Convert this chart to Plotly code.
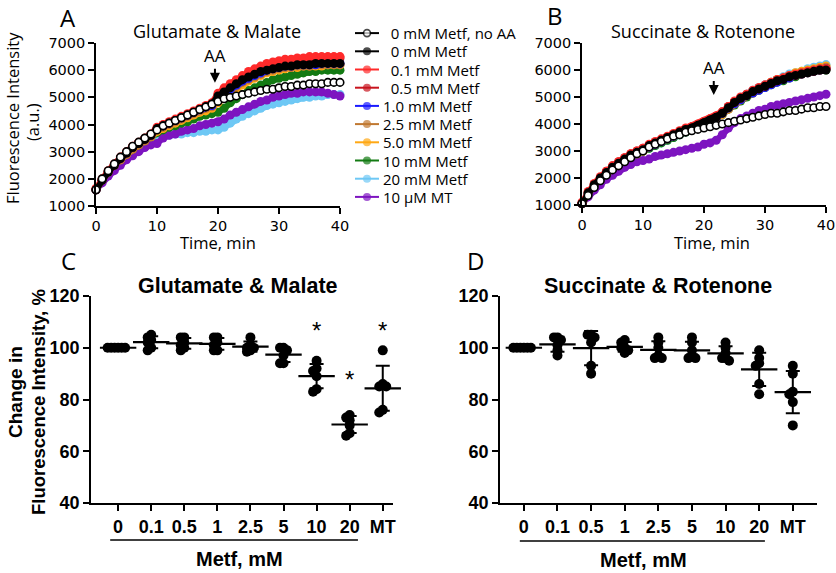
import plotly.graph_objects as go

W, H = 836, 573
def fx(px): return px / W
def fy(py): return 1 - py / H

# ---------------- DATA ----------------
time_min = list(range(0, 41))

series_names = ["0 mM Metf, no AA", "0 mM Metf", "0.1 mM Metf", "0.5 mM Metf", "1.0 mM Metf",
                "2.5 mM Metf", "5.0 mM Metf", "10 mM Metf", "20 mM Metf", "10 \u00b5M MT"]

# Panel A: Glutamate & Malate
A_noAA = [1600,2000,2300,2550,2800,3000,3200,3350,3500,3650,
          3800,3950,4050,4150,4250,4350,4450,4550,4650,4750,
          4850,4950,5000,5050,5100,5150,5200,5250,5300,5300,
          5350,5400,5400,5450,5450,5500,5500,5500,5550,5550,
          5550]
A_0 = [1600,1950,2250,2500,2750,2950,3150,3300,3450,3600,
       3850,3950,4050,4150,4250,4350,4450,4550,4650,4750,
       5050,5200,5350,5500,5650,5750,5850,5950,6000,6050,
       6100,6150,6150,6200,6200,6200,6250,6250,6250,6250,
       6250]
A_01 = [1650,2000,2300,2550,2800,3000,3200,3350,3500,3650,
        3900,4000,4100,4200,4300,4400,4500,4600,4700,4800,
        5150,5350,5500,5650,5800,5950,6050,6150,6250,6300,
        6350,6400,6400,6450,6450,6500,6500,6500,6500,6500,
        6500]
A_05 = [1600,1950,2250,2500,2750,2950,3150,3300,3450,3600,
        3850,3950,4050,4150,4250,4350,4450,4550,4650,4750,
        5100,5300,5450,5600,5750,5900,6000,6100,6200,6250,
        6300,6350,6350,6400,6400,6400,6450,6450,6450,6450,
        6450]
A_1 = [1600,1950,2250,2500,2750,2950,3150,3300,3450,3600,
       3850,3950,4050,4150,4250,4350,4450,4550,4650,4700,
       5000,5150,5300,5450,5600,5700,5800,5900,6000,6050,
       6100,6150,6150,6200,6200,6200,6200,6250,6250,6250,
       6250]
A_25 = [1600,1950,2250,2500,2700,2900,3100,3250,3400,3550,
        3800,3900,4000,4100,4200,4300,4400,4500,4600,4650,
        4950,5100,5250,5400,5550,5650,5750,5850,5950,6000,
        6050,6100,6100,6150,6150,6150,6200,6200,6200,6200,
        6200]
A_5 = [1600,1950,2250,2500,2700,2900,3100,3250,3400,3550,
       3750,3850,3950,4050,4150,4250,4350,4450,4500,4600,
       4800,5000,5150,5300,5450,5600,5700,5800,5900,5950,
       6000,6050,6100,6100,6150,6150,6150,6150,6200,6200,
       6200]
A_10 = [1600,1950,2250,2500,2700,2900,3100,3250,3400,3550,
        3700,3800,3900,3950,4050,4100,4200,4300,4350,4400,
        4450,4600,4800,4950,5100,5250,5350,5450,5550,5650,
        5700,5750,5800,5850,5900,5950,5950,6000,6000,6000,
        6000]
A_20 = [1600,1900,2150,2400,2600,2800,2950,3100,3250,3350,
        3450,3550,3600,3650,3650,3700,3700,3750,3750,3800,
        3800,3900,4050,4200,4300,4400,4500,4600,4700,4750,
        4800,4850,4900,4950,5000,5000,5050,5050,5100,5100,
        5100]
A_MT = [1600,1850,2100,2300,2500,2700,2850,3000,3150,3250,
        3300,3500,3600,3650,3750,3800,3850,3950,4000,4050,
        4100,4200,4350,4450,4550,4650,4750,4850,4900,5000,
        5050,5100,5150,5150,5200,5200,5200,5200,5150,5100,
        5050]

# Panel B: Succinate & Rotenone
B_noAA = [1050,1350,1650,1900,2100,2300,2450,2600,2750,2900,
          3000,3150,3250,3350,3450,3550,3600,3700,3750,3800,
          3850,3900,3950,4000,4050,4100,4150,4200,4250,4300,
          4350,4400,4400,4450,4500,4500,4550,4600,4600,4650,
          4650]
B_0 = [1050,1450,1750,2000,2200,2400,2550,2700,2850,2950,
       3050,3200,3300,3400,3500,3600,3700,3800,3850,3950,
       4050,4150,4250,4400,4600,4800,4950,5050,5200,5300,
       5400,5500,5600,5650,5750,5800,5850,5900,5950,6000,
       6000]
B_01 = [1100,1500,1800,2050,2250,2450,2600,2750,2900,3000,
        3100,3250,3350,3450,3550,3650,3750,3850,3900,4000,
        4100,4200,4300,4450,4650,4850,5000,5100,5250,5350,
        5450,5550,5650,5700,5800,5850,5900,5950,6000,6050,
        6050]
B_05 = [1050,1450,1750,2000,2250,2450,2600,2750,2900,3000,
        3100,3200,3300,3400,3500,3600,3700,3800,3900,3950,
        4050,4150,4300,4450,4650,4800,4950,5100,5200,5300,
        5400,5500,5600,5700,5750,5800,5850,5900,5950,6000,
        6050]
B_1 = [1050,1400,1700,1950,2200,2400,2550,2700,2800,2950,
       3050,3150,3250,3350,3450,3550,3650,3750,3850,3900,
       4000,4100,4250,4400,4600,4750,4900,5050,5150,5250,
       5350,5450,5550,5650,5700,5800,5850,5900,5950,6000,
       6050]
B_25 = [1050,1400,1700,1950,2150,2350,2500,2650,2800,2900,
        3000,3150,3250,3350,3450,3550,3650,3750,3800,3900,
        4000,4100,4200,4400,4550,4750,4900,5050,5150,5300,
        5400,5500,5600,5650,5750,5800,5900,5950,6000,6050,
        6100]
B_5 = [1050,1400,1700,1950,2150,2350,2500,2650,2800,2900,
       3000,3150,3250,3350,3450,3550,3650,3750,3800,3900,
       4000,4100,4200,4350,4550,4750,4900,5050,5200,5300,
       5400,5550,5650,5700,5800,5900,5950,6000,6050,6100,
       6150]
B_10 = [1050,1400,1700,1950,2150,2350,2500,2650,2800,2900,
        3000,3100,3200,3300,3400,3500,3600,3700,3800,3850,
        3950,4050,4200,4350,4550,4700,4850,5000,5150,5250,
        5350,5450,5550,5600,5700,5750,5850,5900,5950,6000,
        6000]
B_20 = [1050,1400,1700,1950,2150,2350,2500,2650,2800,2900,
        3000,3100,3200,3300,3400,3500,3600,3700,3800,3900,
        4000,4100,4250,4400,4600,4800,4950,5100,5250,5350,
        5450,5550,5650,5750,5850,5900,5950,6050,6100,6150,
        6200]
B_MT = [1050,1300,1550,1750,1950,2100,2250,2400,2500,2600,
        2650,2700,2800,2850,2900,2950,3000,3050,3100,3150,
        3250,3300,3400,3600,3850,4050,4200,4300,4400,4500,
        4550,4650,4700,4750,4800,4850,4900,4950,5000,5050,
        5100]

# Panels C / D: change in fluorescence (%), per group
groups = ["0", "0.1", "0.5", "1", "2.5", "5", "10", "20", "MT"]
C_vals = [[100, 100, 100, 100, 100, 100],
          [105, 104, 103, 102, 100, 99],
          [104, 104, 102, 101, 100, 99],
          [104, 104, 102, 101, 99, 99],
          [104, 101, 100, 100, 99, 98.5],
          [100, 100, 99, 97, 94, 94],
          [95, 92, 91, 89, 84, 83],
          [74, 73, 72, 70, 67, 66],
          [99, 86, 85, 85, 76, 75]]
D_vals = [[100, 100, 100, 100, 100, 100],
          [104, 104, 103, 101, 99, 97],
          [105, 105, 104, 102, 93, 90],
          [103, 102, 100, 100, 99, 98],
          [104, 102, 100, 97, 96, 96],
          [104, 102, 99, 97, 96, 96],
          [102, 100, 98, 96, 96, 95],
          [99, 96, 94, 93, 86, 82],
          [93, 90, 83, 82, 79, 70]]
C_sig = ["10", "20", "MT"]
C_sig_y = [109, 90, 109]

# ---------------- STYLE ----------------
colors = ["black", "black", "#ff2a2a", "#c8141e", "#1a1aff", "#c07830",
          "#ffa814", "#137a13", "#6ec8f5", "#7d14c0"]
A_data = [A_noAA, A_0, A_01, A_05, A_1, A_25, A_5, A_10, A_20, A_MT]
B_data = [B_noAA, B_0, B_01, B_05, B_1, B_25, B_5, B_10, B_20, B_MT]
draw_order = [8, 9, 7, 6, 5, 4, 3, 2, 1, 0]

TICKF_AB = dict(family="DejaVu Sans", size=14.5, color="black")
LBLF = "Open Sans"
BOLDF = "Liberation Sans"

fig = go.Figure()

for panel, data, xa, ya in [("A", A_data, "x", "y"), ("B", B_data, "x2", "y2")]:
    for i in draw_order:
        if i == 0:
            mk = dict(symbol="circle", size=7.5, color="white", line=dict(color="black", width=1.6))
            ln = dict(color="black", width=1.5)
        else:
            mk = dict(symbol="circle", size=9, color=colors[i], line=dict(width=0))
            ln = dict(color=colors[i], width=6)
        fig.add_trace(go.Scatter(
            x=time_min, y=data[i], mode="lines+markers", marker=mk, line=ln,
            showlegend=False, xaxis=xa, yaxis=ya, cliponaxis=False))

# hand-built legend on a hidden axis: one row per series index
for i, nm in enumerate(series_names):
    if i == 0:
        mk = dict(symbol="circle", size=7, color="white", line=dict(color="black", width=1.6))
    else:
        mk = dict(symbol="circle", size=8, color=colors[i], line=dict(width=0))
    fig.add_trace(go.Scatter(x=[0, 1, 2], y=[i, i, i], mode="lines+markers",
                             marker=dict(mk, size=[0, mk["size"], 0]),
                             line=dict(color=colors[i], width=2), showlegend=False,
                             xaxis="x5", yaxis="y5", cliponaxis=False, hoverinfo="skip"))

# strip plots
def swarm(vals, ppu, ppc, step=3.5, mind=3.5):
    placed, offs = [], []
    cands = [0.0] + [s * k * step for k in range(1, 30) for s in (-1, 1)]
    for v in vals:
        yp = v * ppu
        for c in cands:
            if all((c - a) ** 2 + (yp - b) ** 2 >= mind ** 2 - 1e-9 for a, b in placed):
                break
        placed.append((c, yp))
        offs.append(c / ppc)
    return offs

ppu = (503 - 296) / 80.0
for vals_all, xa, ya, ppc in [(C_vals, "x3", "y3", 33.1), (D_vals, "x4", "y4", 33.6)]:
    xs, ys, mx, my, sd = [], [], [], [], []
    for gi, vals in enumerate(vals_all):
        offs = swarm(vals, ppu, ppc)
        xs += [gi + o for o in offs]
        ys += vals
        m = sum(vals) / len(vals)
        s = (sum((v - m) ** 2 for v in vals) / (len(vals) - 1)) ** 0.5
        mx.append(gi); my.append(m); sd.append(s)
    fig.add_trace(go.Scatter(x=xs, y=ys, mode="markers", xaxis=xa, yaxis=ya, showlegend=False,
                             marker=dict(size=10, color="black"), cliponaxis=False))
    fig.add_trace(go.Scatter(x=mx, y=my, mode="markers", xaxis=xa, yaxis=ya, showlegend=False,
                             marker=dict(symbol="line-ew", size=26, line=dict(width=2.2, color="black")),
                             error_y=dict(type="data", array=sd, thickness=2, width=7, color="black"),
                             cliponaxis=False))

axis_common = dict(showline=True, linecolor="black", linewidth=1.6, ticks="outside",
                   ticklen=6, tickwidth=1.6, tickcolor="black", showgrid=False, zeroline=False,
                   automargin=False)
hidden = dict(visible=False, showgrid=False, zeroline=False, automargin=False)
BOLDTICK = dict(family=BOLDF, size=18, color="black", weight="bold")

fig.update_layout(
    template="none",
    width=W, height=H, margin=dict(l=0, r=0, t=0, b=0, pad=0), autosize=False,
    paper_bgcolor="white", plot_bgcolor="white", showlegend=False,
    xaxis=dict(domain=[fx(96), fx(340)], range=[0, 40], anchor="y", tickvals=[0, 10, 20, 30, 40],
               tickfont=TICKF_AB, **axis_common),
    yaxis=dict(domain=[fy(206), fy(43)], range=[1000, 7000], anchor="x",
               tickvals=[1000, 2000, 3000, 4000, 5000, 6000, 7000], tickfont=TICKF_AB, **axis_common),
    xaxis2=dict(domain=[fx(582), fx(826)], range=[0, 40], anchor="y2", tickvals=[0, 10, 20, 30, 40],
                tickfont=TICKF_AB, **axis_common),
    yaxis2=dict(domain=[fy(205), fy(43)], range=[1000, 7000], anchor="x2",
                tickvals=[1000, 2000, 3000, 4000, 5000, 6000, 7000], tickfont=TICKF_AB, **axis_common),
    xaxis3=dict(domain=[fx(91), fx(393)], range=[-0.82, 8.31], anchor="y3",
                tickvals=list(range(9)), ticktext=groups, ticklabelstandoff=1,
                tickfont=BOLDTICK, **axis_common),
    yaxis3=dict(domain=[fy(503), fy(296)], range=[40, 120], anchor="x3",
                tickvals=[40, 60, 80, 100, 120], tickfont=BOLDTICK, **axis_common),
    xaxis4=dict(domain=[fx(500), fx(817)], range=[-0.71, 8.72], anchor="y4",
                tickvals=list(range(9)), ticktext=groups, ticklabelstandoff=1,
                tickfont=BOLDTICK, **axis_common),
    yaxis4=dict(domain=[fy(503), fy(296)], range=[40, 120], anchor="x4",
                tickvals=[40, 60, 80, 100, 120], tickfont=BOLDTICK, **axis_common),
    xaxis5=dict(domain=[fx(355), fx(379)], range=[0, 2], anchor="y5", **hidden),
    yaxis5=dict(domain=[fy(206), fy(24)], range=[9.5, -0.5], anchor="x5", **hidden),
)

ann = []
def text(px, py, s, size, family=LBLF, bold=False, angle=0):
    ann.append(dict(x=fx(px), y=fy(py), xref="paper", yref="paper", text=s, showarrow=False,
                    xanchor="center", yanchor="middle", textangle=angle,
                    font=dict(family=family, size=size, color="black", weight="bold" if bold else "normal")))

# legend texts
for i, nm in enumerate(series_names):
    label = ("\u00a0\u00a0" + nm) if nm.startswith("0") else nm
    ann.append(dict(x=2, y=i, xref="x5", yref="y5", text=label, showarrow=False,
                    xanchor="left", yanchor="middle", xshift=2,
                    font=dict(family=LBLF, size=15, color="black")))

# panel letters
text(68, 17, "A", 24)
text(555, 16, "B", 24)
text(68, 260, "C", 24)
text(475, 260, "D", 24)
# A/B titles & axis titles
text(217, 31, "Glutamate &amp; Malate", 18)
text(703, 31, "Succinate &amp; Rotenone", 18)
text(218, 243, "Time, min", 16.5)
text(712, 243, "Time, min", 16.5)
text(12, 118, "Fluorescence Intensity", 16.5, angle=-90)
text(33, 122, "(a.u.)", 16.5, angle=-90)
# C/D titles & labels
text(238, 286, "Glutamate &amp; Malate", 21.5, BOLDF, True)
text(658, 286, "Succinate &amp; Rotenone", 21.5, BOLDF, True)
text(239, 559, "Metf, mM", 20, BOLDF, True)
text(643, 560, "Metf, mM", 20, BOLDF, True)
text(15, 392, "Change in", 19, BOLDF, True, -90)
text(38, 402, "Fluorescence Intensity, %", 18.5, BOLDF, True, -90)

# AA arrows
ann.append(dict(x=19.5, y=5540, xref="x", yref="y", text="AA", showarrow=True, ax=0, ay=-27,
                arrowhead=2, arrowsize=1, arrowwidth=2, arrowcolor="black",
                font=dict(family=LBLF, size=17, color="black")))
ann.append(dict(x=21.6, y=5075, xref="x2", yref="y2", text="AA", showarrow=True, ax=0, ay=-27,
                arrowhead=2, arrowsize=1, arrowwidth=2, arrowcolor="black",
                font=dict(family=LBLF, size=17, color="black")))
# significance stars
for g, yv in zip(C_sig, C_sig_y):
    ann.append(dict(x=groups.index(g), y=yv, xref="x3", yref="y3", text="*", showarrow=False,
                    yshift=-6, font=dict(family=BOLDF, size=24, color="black")))

fig.update_layout(annotations=ann)

shapes = [
    dict(type="line", xref="x3", yref="paper", x0=-0.24, x1=7.25, y0=fy(540), y1=fy(540),
         line=dict(color="black", width=1.6)),
    dict(type="line", xref="x4", yref="paper", x0=-0.12, x1=7.17, y0=fy(541), y1=fy(541),
         line=dict(color="black", width=1.6)),
]
fig.update_layout(shapes=shapes)

fig.write_html("out.html", config={"displayModeBar": False},
               post_script="document.body.style.margin='0px';document.body.style.padding='0px';")
